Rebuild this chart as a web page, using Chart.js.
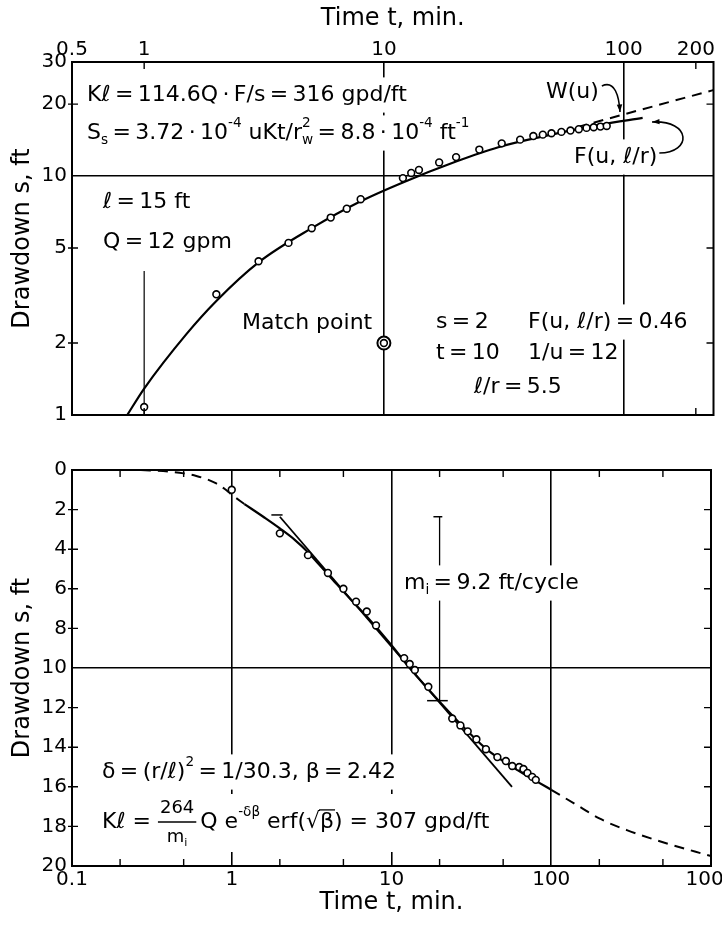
<!DOCTYPE html>
<html>
<head>
<meta charset="utf-8">
<title>Drawdown type-curve match</title>
<script src="https://cdn.jsdelivr.net/npm/chart.js@4.4.1/dist/chart.umd.min.js"></script>
<style>
  html, body { margin: 0; padding: 0; background: #fff; }
  #wrap { position: relative; width: 722px; height: 925px; }
  .box { position: absolute; left: 0; width: 722px; }
  #topBox { top: 0; height: 440px; }
  #bottomBox { top: 440px; height: 485px; }
</style>
</head>
<body>
<div id="wrap">
  <div class="box" id="topBox"><canvas id="topChart"></canvas></div>
  <div class="box" id="bottomBox"><canvas id="bottomChart"></canvas></div>
</div>
<script>
// ---- top panel: log-log match against F(u, l/r) ----
const topXTicks = [0.5, 1, 10, 100, 200];
const topYTicks = [1, 2, 5, 10, 20, 30];
const topMinorX = [1, 200];
const topMinorY = [2, 5, 20];

const topObsTime = [1, 2, 3, 4, 5, 6, 7, 8, 12, 13, 14, 17, 20, 25, 31, 37, 42, 46, 50, 55, 60, 65, 70, 75, 80, 85];
const topObsDrawdown = [1.08, 3.2, 4.4, 5.25, 6.05, 6.7, 7.3, 8.0, 9.8, 10.3, 10.6, 11.4, 12.0, 12.9, 13.7, 14.2, 14.7, 14.9, 15.1, 15.3, 15.5, 15.7, 15.9, 16.0, 16.1, 16.2];

const topFitTime = [0.85, 1, 1.5, 2, 3, 5, 8, 12, 20, 30, 50, 80, 120];
const topFitDrawdown = [1, 1.29, 2.18, 3.0, 4.35, 6.05, 7.84, 9.4, 11.5, 13.2, 14.9, 16.4, 17.5];

const topTheisTime = [64, 100, 237];
const topTheisDrawdown = [16.0, 18.1, 22.9];

const topGuideTime = [1, 1];
const topGuideDrawdown = [1, 4];

const matchTime = [10];
const matchDrawdown = [2];

// ---- bottom panel: semilog, drawdown vs log time ----
const bottomXTicks = [0.1, 1, 10, 100, 1000];
const bottomYTicks = [0, 2, 4, 6, 8, 10, 12, 14, 16, 18, 20];
const bottomMinorX = [0.2, 0.5, 2, 5, 20, 50, 200, 500];
const bottomMinorY = [2, 4, 6, 8, 12, 14, 16, 18];

const bottomObsTime = [1, 2, 3, 4, 5, 6, 7, 8, 12, 13, 14, 17, 24, 27, 30, 34, 39, 46, 52, 57, 63, 67, 71, 76, 80];
const bottomObsDrawdown = [1.0, 3.2, 4.3, 5.2, 6.0, 6.65, 7.15, 7.85, 9.5, 9.8, 10.1, 10.95, 12.55, 12.9, 13.2, 13.6, 14.1, 14.5, 14.7, 14.95, 15.0, 15.1, 15.3, 15.5, 15.65];

const bottomEarlyTime = [0.27, 0.4, 0.5, 0.6, 0.7, 0.8, 0.9, 1.0, 1.2];
const bottomEarlyDrawdown = [0, 0.08, 0.17, 0.3, 0.47, 0.68, 0.95, 1.25, 1.72];

const bottomCurveTime = [1.2, 1.6, 2, 2.5, 3, 3.5, 4.3, 5.5, 7, 10, 13, 20, 30, 40, 60, 80, 100];
const bottomCurveDrawdown = [1.72, 2.4, 2.95, 3.55, 4.15, 4.75, 5.55, 6.5, 7.4, 8.85, 10.0, 11.7, 13.2, 14.15, 15.1, 15.7, 16.15];

const bottomLateTime = [100, 150, 200, 300, 500, 1000];
const bottomLateDrawdown = [16.15, 17.0, 17.6, 18.2, 18.8, 19.5];

const slopeTime = [2, 56.8];
const slopeDrawdown = [2.36, 16.0];

// one log cycle marker for m_i (t = 2 -> 20)
const cycleBarTime = [20, 20];
const cycleBarDrawdown = [2.36, 11.65];
const cycleTopCapTime = [18.3, 20.8];
const cycleTopCapDrawdown = [2.36, 2.36];
const cycleLowCapTime = [16.7, 22.5];
const cycleLowCapDrawdown = [11.65, 11.65];
const cycleStartTime = [1.77, 2.08];
const cycleStartDrawdown = [2.27, 2.27];

const FONT = '"DejaVu Sans", sans-serif';
const NOTE = 22;
const TS = '\u2009'; // thin space, the lettering is set tight round "=" and "·"

const zip = (xs, ys) => xs.map((x, i) => ({ x: x, y: ys[i] }));

// --- little rich-text helper: ^{sup}, _{sub}, ~{overline} ---
function parseRich(str) {
    const out = [];
    let i = 0, buf = '';
    while (i < str.length) {
        const c = str[i];
        if ((c === '^' || c === '_' || c === '~') && str[i + 1] === '{') {
            if (buf) { out.push({ text: buf, kind: 'n' }); buf = ''; }
            const end = str.indexOf('}', i);
            const kind = c === '^' ? 'sup' : c === '_' ? 'sub' : 'over';
            out.push({ text: str.slice(i + 2, end), kind: kind });
            i = end + 1;
        } else {
            buf += c;
            i++;
        }
    }
    if (buf) out.push({ text: buf, kind: 'n' });
    return out;
}

function layoutRich(ctx, str, size) {
    const toks = parseRich(str);
    const small = size * 0.62;
    const items = [];
    let x = 0;
    for (let k = 0; k < toks.length; k++) {
        const t = toks[k];
        const fs = (t.kind === 'sup' || t.kind === 'sub') ? small : size;
        ctx.font = fs + 'px ' + FONT;
        const w = ctx.measureText(t.text).width;
        const dy = t.kind === 'sup' ? -size * 0.45 : t.kind === 'sub' ? size * 0.32 : 0;
        items.push({ text: t.text, x: x, dy: dy, fs: fs, w: w, over: t.kind === 'over' });
        const next = toks[k + 1];
        if (t.kind === 'sup' && next && next.kind === 'sub') {
            ctx.font = small + 'px ' + FONT;
            const w2 = ctx.measureText(next.text).width;
            items.push({ text: next.text, x: x, dy: size * 0.32, fs: small, w: w2 });
            x += Math.max(w, w2);
            k++;
        } else {
            x += w;
        }
    }
    return { items: items, width: x };
}

function drawRich(ctx, str, x, y, size, mask) {
    const lay = layoutRich(ctx, str, size);
    if (mask) {
        ctx.fillStyle = '#fff';
        ctx.fillRect(x - 3, y - size * 0.8, lay.width + 6, size * 1.6);
    }
    ctx.fillStyle = '#000';
    ctx.strokeStyle = '#000';
    ctx.textAlign = 'left';
    ctx.textBaseline = 'middle';
    lay.items.forEach(it => {
        ctx.font = it.fs + 'px ' + FONT;
        ctx.fillText(it.text, x + it.x, y + it.dy);
        if (it.over) {
            ctx.lineWidth = 1.3;
            ctx.beginPath();
            ctx.moveTo(x + it.x - 1, y - size * 0.55);
            ctx.lineTo(x + it.x + it.w + 1, y - size * 0.55);
            ctx.stroke();
        }
    });
    return lay.width;
}

function arrow(ctx, p0, c1, c2, p1) {
    ctx.strokeStyle = '#000';
    ctx.fillStyle = '#000';
    ctx.lineWidth = 1.6;
    ctx.beginPath();
    ctx.moveTo(p0[0], p0[1]);
    ctx.bezierCurveTo(c1[0], c1[1], c2[0], c2[1], p1[0], p1[1]);
    ctx.stroke();
    const a = Math.atan2(p1[1] - c2[1], p1[0] - c2[0]);
    ctx.beginPath();
    ctx.moveTo(p1[0], p1[1]);
    ctx.lineTo(p1[0] - 8 * Math.cos(a - 0.35), p1[1] - 8 * Math.sin(a - 0.35));
    ctx.lineTo(p1[0] - 8 * Math.cos(a + 0.35), p1[1] - 8 * Math.sin(a + 0.35));
    ctx.closePath();
    ctx.fill();
}

// frame around the plot plus small inward ticks on all four sides
const framePlugin = {
    id: 'frame',
    afterDraw(chart, args, opts) {
        const { ctx, chartArea: a, scales } = chart;
        ctx.save();
        ctx.strokeStyle = '#000';
        ctx.lineWidth = 1.4;
        (opts.minorX || []).forEach(v => {
            const px = scales.x.getPixelForValue(v);
            ctx.beginPath();
            ctx.moveTo(px, a.top); ctx.lineTo(px, a.top + 7);
            ctx.moveTo(px, a.bottom); ctx.lineTo(px, a.bottom - 7);
            ctx.stroke();
        });
        (opts.minorY || []).forEach(v => {
            const py = scales.y.getPixelForValue(v);
            ctx.beginPath();
            ctx.moveTo(a.left - 4, py); ctx.lineTo(a.left + 6, py);
            ctx.moveTo(a.right, py); ctx.lineTo(a.right - 7, py);
            ctx.stroke();
        });
        ctx.lineWidth = 2;
        ctx.strokeRect(a.left, a.top, a.right - a.left, a.bottom - a.top);
        ctx.restore();
    }
};

const topNotes = {
    id: 'topNotes',
    afterDatasetsDraw(chart) {
        const ctx = chart.ctx;
        ctx.save();
        drawRich(ctx, `Kℓ${TS}=${TS}114.6Q${TS}·${TS}F/s${TS}=${TS}316 gpd/ft`, 87, 95, NOTE, true);
        drawRich(ctx, `S_{s}${TS}=${TS}3.72${TS}·${TS}10^{-4} uKt/r^{2}_{w}${TS}=${TS}8.8${TS}·${TS}10^{-4} ft^{-1}`, 87, 133, NOTE, true);
        drawRich(ctx, `ℓ${TS}=${TS}15 ft`, 103, 202, NOTE, true);
        drawRich(ctx, `Q${TS}=${TS}12 gpm`, 103, 242, NOTE, true);
        drawRich(ctx, 'Match point', 242, 323, NOTE, true);
        drawRich(ctx, `s${TS}=${TS}2`, 436, 322, NOTE, true);
        drawRich(ctx, `F(u, ℓ/r)${TS}=${TS}0.46`, 528, 322, NOTE, true);
        drawRich(ctx, `t${TS}=${TS}10`, 436, 353, NOTE, true);
        drawRich(ctx, `1/u${TS}=${TS}12`, 528, 353, NOTE, true);
        drawRich(ctx, `ℓ/r${TS}=${TS}5.5`, 474, 387, NOTE, true);
        const wW = drawRich(ctx, 'W(u)', 546, 92, NOTE, true);
        const fW = drawRich(ctx, 'F(u, ℓ/r)', 574, 157, NOTE, true);
        arrow(ctx, [546 + wW + 3, 86], [546 + wW + 16, 80], [619, 96], [620, 112]);
        arrow(ctx, [574 + fW + 2, 153], [692, 153], [692, 120], [652, 122]);
        ctx.restore();
    }
};

const bottomNotes = {
    id: 'bottomNotes',
    afterDatasetsDraw(chart) {
        const ctx = chart.ctx;
        ctx.save();
        drawRich(ctx, `m_{i}${TS}=${TS}9.2 ft/cycle`, 404, 143, NOTE, true);
        drawRich(ctx, `δ${TS}=${TS}(r/ℓ)^{2}${TS}=${TS}1/30.3, β${TS}=${TS}2.42`, 102, 332, NOTE, true);
        // K l = (264 / m_i) Q e^-δβ erf(√β) = 307 gpd/ft
        const head = 'Kℓ = ';
        const tail = 'Q e^{-δβ} erf(√~{β}) = 307 gpd/ft';
        const headW = layoutRich(ctx, head, NOTE).width;
        const numW = layoutRich(ctx, '264', 18).width;
        const denW = layoutRich(ctx, 'm_{i}', 18).width;
        const fw = Math.max(numW, denW) + 4;
        const tailW = layoutRich(ctx, tail, NOTE).width;
        const y = 382;
        ctx.fillStyle = '#fff';
        ctx.fillRect(99, y - 28, headW + fw + tailW + 14, 58);
        let x = 102;
        x += drawRich(ctx, head, x, y, NOTE, false);
        drawRich(ctx, '264', x + (fw - numW) / 2, y - 14, 18, false);
        drawRich(ctx, 'm_{i}', x + (fw - denW) / 2, y + 15, 18, false);
        ctx.strokeStyle = '#000';
        ctx.lineWidth = 1.5;
        ctx.beginPath();
        ctx.moveTo(x, y); ctx.lineTo(x + fw, y);
        ctx.stroke();
        x += fw + 4;
        drawRich(ctx, tail, x, y, NOTE, false);
        ctx.restore();
    }
};

const majorGrid = values => ctx => (ctx.tick && values.includes(ctx.tick.value)) ? '#000' : 'rgba(0,0,0,0)';
const tickFont = { family: FONT, size: 20 };
const titleFont = { family: FONT, size: 24 };

const pointSet = (data) => ({
    data: data,
    showLine: false,
    pointRadius: 3.4,
    pointHoverRadius: 3.4,
    pointBackgroundColor: '#fff',
    pointBorderColor: '#000',
    pointBorderWidth: 1.6
});
const lineSet = (data, extra) => Object.assign({
    data: data,
    showLine: true,
    borderColor: '#000',
    borderWidth: 2,
    pointRadius: 0,
    tension: 0
}, extra || {});
const smooth = { cubicInterpolationMode: 'monotone' };

// ---------------- top chart ----------------
new Chart(document.getElementById('topChart'), {
    type: 'scatter',
    data: {
        datasets: [
            pointSet(zip(matchTime, matchDrawdown)),
            Object.assign(pointSet(zip(matchTime, matchDrawdown)), { pointRadius: 6.5, pointBorderWidth: 2 }),
            pointSet(zip(topObsTime, topObsDrawdown)),
            lineSet(zip(topFitTime, topFitDrawdown), Object.assign({ borderWidth: 2.2 }, smooth)),
            lineSet(zip(topTheisTime, topTheisDrawdown), Object.assign({ borderDash: [10, 7] }, smooth)),
            lineSet(zip(topGuideTime, topGuideDrawdown), { borderWidth: 1.2 })
        ]
    },
    options: {
        responsive: true,
        maintainAspectRatio: false,
        animation: false,
        layout: { padding: { left: 0, right: 8, top: 0, bottom: 25 } },
        plugins: {
            legend: { display: false },
            tooltip: { enabled: false },
            frame: { minorX: topMinorX, minorY: topMinorY }
        },
        scales: {
            x: {
                type: 'logarithmic',
                position: 'top',
                min: 0.5,
                max: 237,
                afterBuildTicks: s => { s.ticks = topXTicks.map(v => ({ value: v })); },
                afterFit: s => { s.height = 62; s.paddingLeft = 0; s.paddingRight = 0; },
                grid: { color: majorGrid([10, 100]), lineWidth: 1.6, drawTicks: false },
                border: { display: false },
                ticks: { autoSkip: false, maxRotation: 0, padding: 0, color: '#000', font: tickFont, callback: v => String(v) },
                title: { display: true, text: 'Time t, min.', color: '#000', font: titleFont, padding: { top: 4, bottom: 0 } }
            },
            y: {
                type: 'logarithmic',
                min: 1,
                max: 30,
                afterBuildTicks: s => { s.ticks = topYTicks.map(v => ({ value: v })); },
                afterFit: s => { s.width = 72; s.paddingTop = 0; s.paddingBottom = 0; },
                grid: { color: majorGrid([10]), lineWidth: 1.6, drawTicks: false },
                border: { display: false },
                ticks: { autoSkip: false, padding: 5, color: '#000', font: tickFont, callback: v => String(v) },
                title: { display: true, text: 'Drawdown s, ft', color: '#000', font: titleFont, padding: { top: 8, bottom: 0 } }
            }
        }
    },
    plugins: [topNotes, framePlugin]
});

// ---------------- bottom chart ----------------
new Chart(document.getElementById('bottomChart'), {
    type: 'scatter',
    data: {
        datasets: [
            pointSet(zip(bottomObsTime, bottomObsDrawdown)),
            lineSet(zip(bottomCurveTime, bottomCurveDrawdown), Object.assign({ borderWidth: 2.2 }, smooth)),
            lineSet(zip(bottomEarlyTime, bottomEarlyDrawdown), Object.assign({ borderDash: [10, 7] }, smooth)),
            lineSet(zip(bottomLateTime, bottomLateDrawdown), Object.assign({ borderDash: [10, 7] }, smooth)),
            lineSet(zip(slopeTime, slopeDrawdown), { borderWidth: 1.8 }),
            lineSet(zip(cycleBarTime, cycleBarDrawdown), { borderWidth: 1.3 }),
            lineSet(zip(cycleTopCapTime, cycleTopCapDrawdown), { borderWidth: 1.5 }),
            lineSet(zip(cycleLowCapTime, cycleLowCapDrawdown), { borderWidth: 1.5 }),
            lineSet(zip(cycleStartTime, cycleStartDrawdown), { borderWidth: 1.5 })
        ]
    },
    options: {
        responsive: true,
        maintainAspectRatio: false,
        animation: false,
        layout: { padding: { left: 0, right: 11, top: 30, bottom: 0 } },
        plugins: {
            legend: { display: false },
            tooltip: { enabled: false },
            frame: { minorX: bottomMinorX, minorY: bottomMinorY }
        },
        scales: {
            x: {
                type: 'logarithmic',
                position: 'bottom',
                min: 0.1,
                max: 1000,
                afterBuildTicks: s => { s.ticks = bottomXTicks.map(v => ({ value: v })); },
                afterFit: s => { s.height = 59; s.paddingLeft = 0; s.paddingRight = 0; },
                grid: { color: majorGrid([1, 10, 100]), lineWidth: 1.6, drawTicks: false },
                border: { display: false },
                ticks: { autoSkip: false, maxRotation: 0, padding: 2, color: '#000', font: tickFont, callback: v => String(v) },
                title: { display: true, text: 'Time t, min.', color: '#000', font: titleFont, padding: { top: 0, bottom: 8 } }
            },
            y: {
                type: 'linear',
                reverse: true,
                min: 0,
                max: 20,
                afterBuildTicks: s => { s.ticks = bottomYTicks.map(v => ({ value: v })); },
                afterFit: s => { s.width = 72; s.paddingTop = 0; s.paddingBottom = 0; },
                grid: { color: majorGrid([10]), lineWidth: 1.6, drawTicks: false },
                border: { display: false },
                ticks: { autoSkip: false, padding: 5, color: '#000', font: tickFont, callback: v => String(v) },
                title: { display: true, text: 'Drawdown s, ft', color: '#000', font: titleFont, padding: { top: 8, bottom: 0 } }
            }
        }
    },
    plugins: [bottomNotes, framePlugin]
});
</script>
</body>
</html>
